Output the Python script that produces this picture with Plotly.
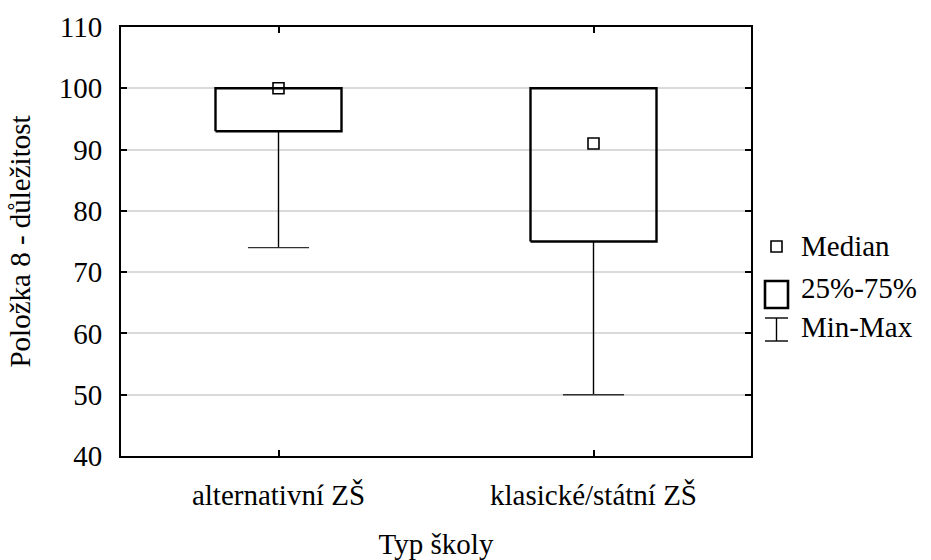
import plotly.graph_objects as go

# Summary statistics per school type
categories = ["alternativní ZŠ", "klasické/státní ZŠ"]
medians = [100, 91]
q1 = [93, 75]
q3 = [100, 100]
mins = [74, 50]
maxs = [100, 100]

y_ticks = [40, 50, 60, 70, 80, 90, 100, 110]

FONT = "Liberation Serif"
FSIZE = 29
BOX_HALF = 0.2
CAP_HALF = 0.097

fig = go.Figure()

for i, cat in enumerate(categories):
    # whisker stems
    fig.add_trace(go.Scatter(
        x=[i, i, None, i, i],
        y=[mins[i], q1[i], None, q3[i], maxs[i]],
        mode="lines", line=dict(color="black", width=1.4),
        showlegend=False, hoverinfo="skip"))
    # whisker caps
    fig.add_trace(go.Scatter(
        x=[i - CAP_HALF, i + CAP_HALF, None, i - CAP_HALF, i + CAP_HALF],
        y=[mins[i], mins[i], None, maxs[i], maxs[i]],
        mode="lines", line=dict(color="#333333", width=1.4),
        showlegend=False, hoverinfo="skip"))
    # interquartile box
    fig.add_trace(go.Scatter(
        x=[i - BOX_HALF, i + BOX_HALF, i + BOX_HALF, i - BOX_HALF, i - BOX_HALF],
        y=[q1[i], q1[i], q3[i], q3[i], q1[i]],
        mode="lines", line=dict(color="black", width=2.4),
        showlegend=False, hoverinfo="skip"))

# median markers
fig.add_trace(go.Scatter(
    x=list(range(len(categories))), y=medians, mode="markers",
    marker=dict(symbol="square-open", size=11, color="black", line=dict(width=1.6)),
    showlegend=False))

# hand-built legend on the right of the plot area
PLOT_L, PLOT_R, PLOT_T, PLOT_B = 121, 751, 27, 456


def px_x(px):
    return (px - PLOT_L) / float(PLOT_R - PLOT_L)


def px_y(py):
    return (PLOT_B - py) / float(PLOT_B - PLOT_T)


shapes = [
    dict(type="rect", xref="paper", yref="paper",
         x0=px_x(771), x1=px_x(782), y0=px_y(252), y1=px_y(241),
         line=dict(color="black", width=1.6)),
    dict(type="rect", xref="paper", yref="paper",
         x0=px_x(765), x1=px_x(788), y0=px_y(308), y1=px_y(281),
         line=dict(color="black", width=2.6)),
    dict(type="line", xref="paper", yref="paper",
         x0=px_x(776.5), x1=px_x(776.5), y0=px_y(341), y1=px_y(318),
         line=dict(color="black", width=1.4)),
    dict(type="line", xref="paper", yref="paper",
         x0=px_x(765), x1=px_x(788), y0=px_y(318), y1=px_y(318),
         line=dict(color="black", width=1.4)),
    dict(type="line", xref="paper", yref="paper",
         x0=px_x(765), x1=px_x(788), y0=px_y(341), y1=px_y(341),
         line=dict(color="black", width=1.4)),
]

legend_font = dict(family=FONT, size=FSIZE, color="black")
annotations = []
for label, py in [("Median", 245.5), ("25%-75%", 288), ("Min-Max", 326.5)]:
    annotations.append(dict(text=label, xref="paper", yref="paper",
                            x=px_x(799), y=px_y(py), xanchor="left", yanchor="middle",
                            showarrow=False, font=legend_font))

fig.update_layout(
    width=931, height=560,
    margin=dict(l=PLOT_L, r=931 - PLOT_R, t=PLOT_T, b=560 - PLOT_B, autoexpand=False),
    paper_bgcolor="white", plot_bgcolor="white",
    font=dict(family=FONT, size=FSIZE, color="black"),
    shapes=shapes, annotations=annotations,
    showlegend=False,
)

fig.update_xaxes(
    range=[-0.5, 1.5], tickvals=list(range(len(categories))), ticktext=categories,
    showgrid=False, zeroline=False, automargin=False,
    showline=True, linecolor="black", linewidth=2, mirror="ticks",
    ticks="inside", ticklen=6, tickwidth=1.5, tickcolor="black",
    ticklabelstandoff=12,
    title=dict(text="Typ školy", standoff=26, font=dict(family=FONT, size=FSIZE)),
)
fig.update_yaxes(
    range=[40, 110], tickvals=y_ticks,
    showgrid=True, gridcolor="#dadada", gridwidth=2, zeroline=False, automargin=False,
    showline=True, linecolor="black", linewidth=2, mirror="ticks",
    ticks="inside", ticklen=6, tickwidth=1.5, tickcolor="black",
    ticklabelstandoff=11,
    title=dict(text="Položka 8 - důležitost", standoff=20, font=dict(family=FONT, size=FSIZE)),
)

fig.write_html("out.html")
